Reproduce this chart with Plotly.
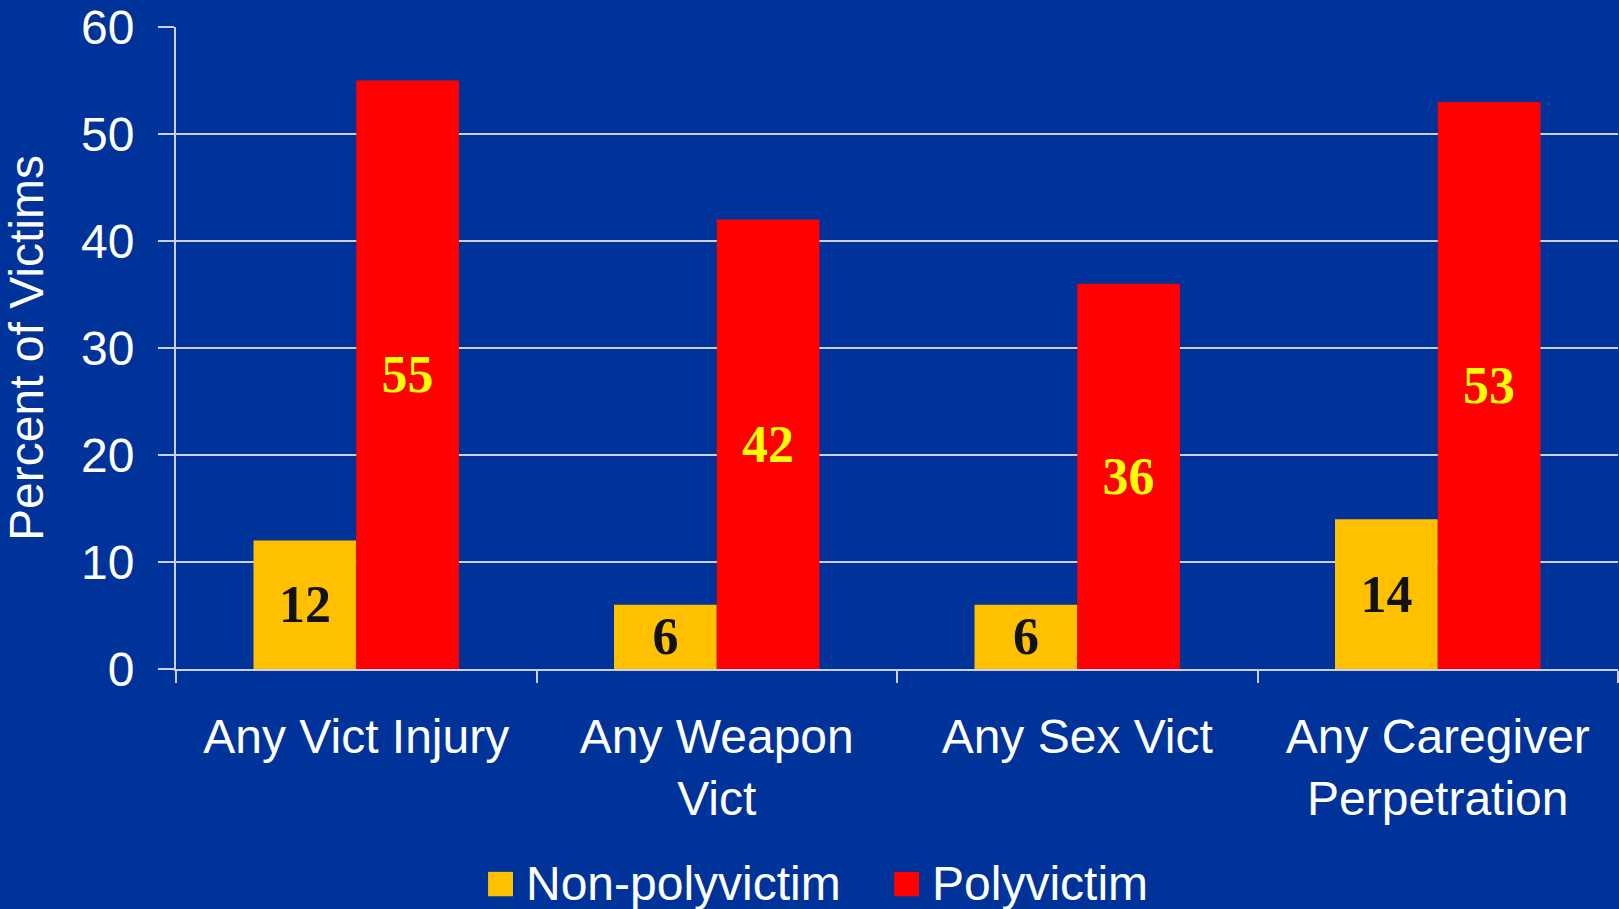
import plotly.graph_objects as go

categories = ["Any Vict Injury", "Any Weapon<br>Vict", "Any Sex Vict", "Any Caregiver<br>Perpetration"]
non_poly = [12, 6, 6, 14]
poly = [55, 42, 36, 53]
y_ticks = [0, 10, 20, 30, 40, 50, 60]
series_names = ["Non-polyvictim", "Polyvictim"]
series_colors = ["#FFC000", "#FF0000"]

bg = "#003399"
grid = "#CDD0E2"

fig = go.Figure()
fig.add_trace(go.Bar(
    x=categories, y=non_poly, name=series_names[0], showlegend=False,
    marker=dict(color=series_colors[0], line=dict(width=0)),
    text=[str(v) for v in non_poly], textposition="inside", insidetextanchor="middle",
    textangle=0, constraintext="none",
    textfont=dict(family="Liberation Serif", size=52, color="#111111", weight="bold"),
))
fig.add_trace(go.Bar(
    x=categories, y=poly, name=series_names[1], showlegend=False,
    marker=dict(color=series_colors[1], line=dict(width=0)),
    text=[str(v) for v in poly], textposition="inside", insidetextanchor="middle",
    textangle=0, constraintext="none",
    textfont=dict(family="Liberation Serif", size=52, color="#FFFF00", weight="bold"),
))

# legend drawn by hand so the swatches can be as big as in the original
legend_x = [0.2164, 0.498]
shapes = []
annotations = []
for name, col, lx in zip(series_names, series_colors, legend_x):
    shapes.append(dict(type="rect", xref="paper", yref="paper", x0=lx, x1=lx + 0.0173,
                       y0=-0.354, y1=-0.316, fillcolor=col, line=dict(width=0)))
    annotations.append(dict(text=name, xref="paper", yref="paper", x=lx + 0.025, y=-0.334,
                            xanchor="left", yanchor="middle", showarrow=False,
                            font=dict(size=48, color="white")))

fig.update_layout(
    width=1619, height=909,
    paper_bgcolor=bg, plot_bgcolor=bg,
    barmode="group", bargap=0.43, bargroupgap=0,
    font=dict(family="Liberation Sans", size=48, color="white"),
    margin=dict(l=176, r=1, t=27, b=240),
    showlegend=False,
    shapes=shapes, annotations=annotations,
    xaxis=dict(
        showgrid=False, showline=True, linecolor=grid, linewidth=2,
        ticks="outside", tickson="boundaries", ticklen=12, tickcolor=grid, tickwidth=2,
        ticklabelstandoff=24, tickfont=dict(size=48),
    ),
    yaxis=dict(
        range=[0, 60], tickvals=y_ticks, showgrid=True, gridcolor=grid, gridwidth=2,
        showline=True, linecolor=grid, linewidth=2, zeroline=False,
        ticks="outside", ticklen=16, tickcolor=grid, tickwidth=2,
        ticklabelstandoff=14, tickfont=dict(size=48),
        title=dict(text="Percent of Victims", font=dict(size=48), standoff=26),
    ),
)

fig.write_html("out.html", config=dict(displayModeBar=False),
               post_script="document.body.style.margin='0';document.body.style.background='#003399';")
